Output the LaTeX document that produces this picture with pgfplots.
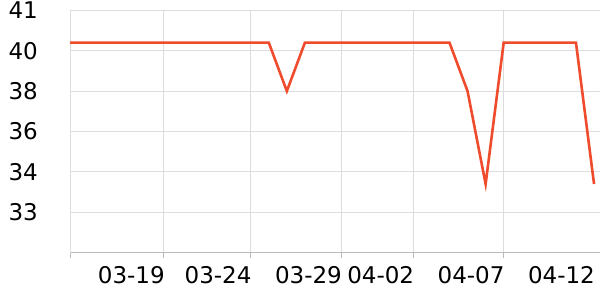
\documentclass[border=0pt]{standalone}
\usepackage{fontspec}
\setmainfont{DejaVu Sans}
\usepackage{pgfplots}
\pgfplotsset{compat=1.18}
\definecolor{linec}{HTML}{EF4B2D}
\definecolor{gridc}{HTML}{DDDDDD}
\definecolor{axisc}{HTML}{BBBBBB}
\begin{document}
\begin{tikzpicture}
\path[use as bounding box] (0,0) rectangle (600bp,300bp);
\begin{axis}[
  at={(70bp,47.3bp)}, anchor=south west,
  scale only axis, width=530bp, height=242.4bp,
  xmin=0, xmax=29.33, ymin=32, ymax=41,
  y coord trafo/.code={\pgfmathparse{(#1<34) ? (#1-32) : ((#1<40) ? (2+(#1-34)/2) : (5+#1-40))}},
  y coord inv trafo/.code={\pgfmathparse{(#1<2) ? (#1+32) : ((#1<5) ? (34+2*(#1-2)) : (40+#1-5))}},
  axis x line*=bottom, axis y line*=left,
  x axis line style={axisc, line width=1bp},
  y axis line style={gridc, line width=1bp},
  xtick={0,5.2,10,15,19,24}, xticklabels={,03-19,03-24,03-29,04-02,04-07},
  extra x ticks={29}, extra x tick labels={04-12},
  extra x tick style={grid=none, xtick style={draw=none}},
  ytick={33,34,36,38,40,41}, yticklabels={33,34,36,38,40,41},
  grid=major, major grid style={gridc, line width=1bp},
  tick label style={font=\fontsize{23bp}{27bp}\selectfont, text=black},
  /pgf/number format/assume math mode=true,
  xtick style={axisc, line width=1bp}, major tick length=5bp, tick align=outside,
  ytick style={draw=none},
  xticklabel style={anchor=north east, inner sep=0pt, yshift=-9bp, xshift=1bp},
  yticklabel style={anchor=east, inner sep=0pt, xshift=-27bp},
]
\addplot[linec, line width=2.6bp, mark=none, line join=miter] table {
x y
0 40.2
1 40.2
2 40.2
3 40.2
4 40.2
5 40.2
6 40.2
7 40.2
8 40.2
9 40.2
10 40.2
11 40.2
12 38
13 40.2
14 40.2
15 40.2
16 40.2
17 40.2
18 40.2
19 40.2
20 40.2
21 40.2
22 38
23 33.7
24 40.2
25 40.2
26 40.2
27 40.2
28 40.2
29 33.7
};
\end{axis}
\end{tikzpicture}
\end{document}
